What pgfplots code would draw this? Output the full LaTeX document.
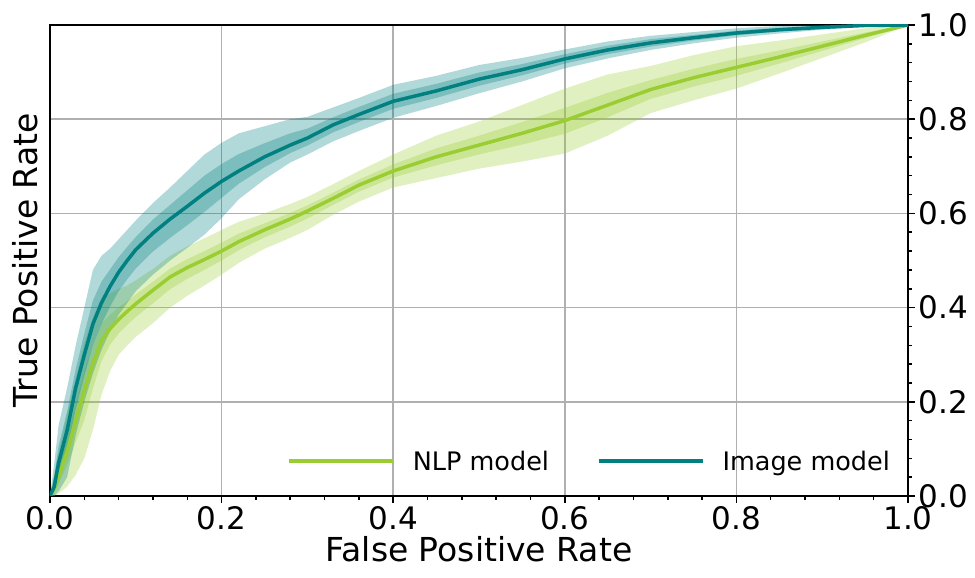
\documentclass[border=0pt]{standalone}
\usepackage{pgfplots}
\pgfplotsset{compat=1.18}
\usepackage{pgfplotstable}
\usepgfplotslibrary{fillbetween}
\usepackage{fontspec}
\setmainfont{DejaVu Sans}
\definecolor{tealc}{HTML}{008080}
\definecolor{ygreen}{HTML}{9ACD32}
\definecolor{gridc}{HTML}{B0B0B0}

% x mean olo ohi ilo ihi
\pgfplotstableread{
x m olo ohi ilo ihi
0 0 0 0 0 0
0.005 0.02 0 0.07 0.011 0.043
0.01 0.07 0.01 0.15 0.043 0.106
0.02 0.14 0.04 0.23 0.095 0.18
0.03 0.23 0.13 0.32 0.185 0.27
0.04 0.30 0.20 0.40 0.255 0.345
0.05 0.365 0.26 0.48 0.32 0.415
0.06 0.41 0.31 0.51 0.365 0.455
0.07 0.445 0.35 0.525 0.402 0.481
0.08 0.475 0.385 0.545 0.435 0.507
0.09 0.50 0.41 0.565 0.46 0.529
0.10 0.523 0.435 0.585 0.483 0.55
0.12 0.558 0.47 0.622 0.519 0.587
0.14 0.588 0.50 0.655 0.548 0.618
0.16 0.615 0.527 0.69 0.575 0.649
0.18 0.643 0.555 0.725 0.603 0.68
0.20 0.668 0.59 0.75 0.633 0.705
0.22 0.69 0.63 0.77 0.663 0.726
0.25 0.72 0.672 0.785 0.698 0.749
0.28 0.745 0.708 0.80 0.728 0.77
0.30 0.76 0.725 0.805 0.744 0.78
0.33 0.788 0.753 0.825 0.772 0.804
0.36 0.81 0.775 0.845 0.794 0.826
0.40 0.838 0.803 0.873 0.822 0.854
0.45 0.86 0.828 0.892 0.845 0.875
0.50 0.885 0.855 0.915 0.871 0.899
0.55 0.905 0.88 0.93 0.893 0.917
0.60 0.928 0.908 0.948 0.918 0.938
0.65 0.947 0.929 0.965 0.938 0.956
0.70 0.962 0.947 0.977 0.954 0.97
0.75 0.973 0.961 0.985 0.967 0.979
0.80 0.983 0.973 0.993 0.978 0.988
0.85 0.99 0.982 0.998 0.986 0.994
0.90 0.995 0.99 1.0 0.992 0.998
0.95 0.999 0.997 1.0 0.998 1.0
1 1 1 1 1 1
}\imgdata

\pgfplotstableread{
x m olo ohi ilo ihi
0 0 0 0 0 0
0.005 0.015 0 0.045 0.009 0.027
0.01 0.04 0.005 0.09 0.026 0.06
0.02 0.095 0.02 0.175 0.065 0.127
0.03 0.16 0.045 0.25 0.114 0.196
0.04 0.225 0.08 0.325 0.161 0.265
0.05 0.28 0.14 0.38 0.228 0.32
0.06 0.33 0.215 0.42 0.286 0.366
0.07 0.355 0.265 0.43 0.321 0.385
0.08 0.375 0.30 0.44 0.345 0.401
0.09 0.392 0.32 0.447 0.363 0.414
0.10 0.408 0.338 0.458 0.38 0.428
0.12 0.437 0.367 0.482 0.409 0.455
0.14 0.465 0.40 0.51 0.439 0.483
0.16 0.485 0.425 0.53 0.461 0.503
0.18 0.502 0.447 0.547 0.48 0.52
0.20 0.52 0.47 0.565 0.50 0.538
0.22 0.54 0.495 0.582 0.522 0.557
0.25 0.565 0.525 0.60 0.549 0.579
0.28 0.588 0.548 0.62 0.572 0.601
0.30 0.605 0.565 0.635 0.589 0.617
0.33 0.632 0.597 0.662 0.618 0.644
0.36 0.66 0.625 0.69 0.646 0.672
0.40 0.69 0.655 0.725 0.676 0.704
0.45 0.72 0.675 0.765 0.702 0.738
0.50 0.745 0.695 0.795 0.725 0.765
0.55 0.77 0.71 0.83 0.746 0.794
0.60 0.797 0.727 0.865 0.769 0.824
0.65 0.83 0.765 0.895 0.804 0.856
0.70 0.863 0.813 0.913 0.843 0.883
0.75 0.888 0.84 0.936 0.869 0.907
0.80 0.91 0.865 0.955 0.892 0.928
0.85 0.932 0.897 0.967 0.918 0.946
0.90 0.955 0.93 0.98 0.945 0.965
0.95 0.978 0.963 0.993 0.972 0.984
1 1 1 1 1 1
}\nlpdata

\begin{document}
\begin{tikzpicture}
\begin{axis}[
  scale only axis, width=858pt, height=471pt,
  at={(0,0)}, anchor=south west,
  xmin=0, xmax=1, ymin=0, ymax=1,
  xtick={0,0.2,0.4,0.6,0.8,1},
  ytick={0,0.2,0.4,0.6,0.8,1},
  minor x tick num=4, minor y tick num=4,
  xtick pos=left, ytick pos=right, yticklabel pos=right,
  tick align=outside,
  major tick length=7pt, minor tick length=4pt,
  every tick/.style={black, line width=1.5pt},
  axis line style={black, line width=2.5pt},
  grid=major, grid style={gridc, line width=1.5pt},
  ticklabel style={font=\fontsize{31}{31}\selectfont},
  /pgf/number format/assume math mode=true,
  xticklabel style={/pgf/number format/.cd, fixed, fixed zerofill, precision=1},
  yticklabel style={/pgf/number format/.cd, fixed, fixed zerofill, precision=1},
  xlabel={False Positive Rate},
  ylabel={True Positive Rate},
  label style={font=\fontsize{33}{33}\selectfont},
  ylabel style={at={(axis description cs:0,0.5)}, anchor=south, yshift=8pt},
  legend columns=2,
  legend image code/.code={\draw[#1, line width=3.5pt] (0pt,0pt) -- (104pt,0pt);},
  legend style={draw=none, fill=none, font=\fontsize{25.5}{25.5}\selectfont,
    at={(0.985,0.074)}, anchor=east,
    /tikz/every odd column/.append style={column sep=16pt},
    /tikz/every even column/.append style={column sep=46pt}},
]
% NLP bands
\addplot[draw=none, name path=nlpoh, forget plot] table[x=x, y=ohi] {\nlpdata};
\addplot[draw=none, name path=nlpol, forget plot] table[x=x, y=olo] {\nlpdata};
\addplot[draw=none, name path=nlpih, forget plot] table[x=x, y=ihi] {\nlpdata};
\addplot[draw=none, name path=nlpil, forget plot] table[x=x, y=ilo] {\nlpdata};
\addplot[ygreen, fill opacity=0.3, draw=none, forget plot] fill between[of=nlpoh and nlpol];
\addplot[ygreen, fill opacity=0.3, draw=none, forget plot] fill between[of=nlpih and nlpil];
% Image bands
\addplot[draw=none, name path=imgoh, forget plot] table[x=x, y=ohi] {\imgdata};
\addplot[draw=none, name path=imgol, forget plot] table[x=x, y=olo] {\imgdata};
\addplot[draw=none, name path=imgih, forget plot] table[x=x, y=ihi] {\imgdata};
\addplot[draw=none, name path=imgil, forget plot] table[x=x, y=ilo] {\imgdata};
\addplot[tealc, fill opacity=0.3, draw=none, forget plot] fill between[of=imgoh and imgol];
\addplot[tealc, fill opacity=0.3, draw=none, forget plot] fill between[of=imgih and imgil];
% mean lines
\addplot[ygreen, line width=3.5pt, line join=round] table[x=x, y=m] {\nlpdata};
\addlegendentry{NLP model}
\addplot[tealc, line width=3.5pt, line join=round] table[x=x, y=m] {\imgdata};
\addlegendentry{Image model}
\end{axis}
\pgfresetboundingbox
\path[use as bounding box] (-50pt,-82pt) rectangle (925pt,496pt);
\end{tikzpicture}
\end{document}
